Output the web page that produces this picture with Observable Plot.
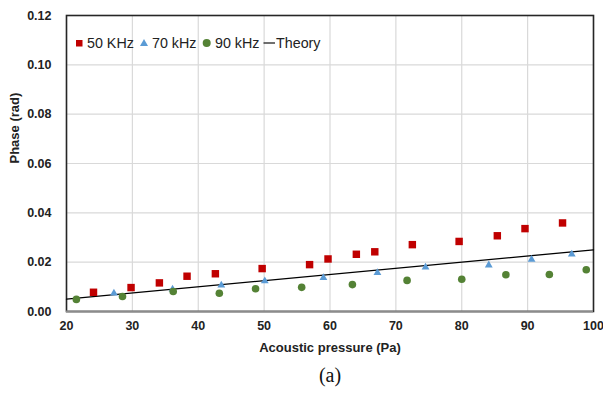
<!DOCTYPE html>
<html>
<head>
<meta charset="utf-8">
<script src="https://cdn.jsdelivr.net/npm/d3@7"></script>
<script src="https://cdn.jsdelivr.net/npm/@observablehq/plot@0.6"></script>
<style>
  html, body { margin: 0; padding: 0; background: #fff; }
  #wrap { position: relative; width: 603px; height: 398px; }
  .leg { position: absolute; font-family: "Liberation Sans", Arial, sans-serif; font-size: 14.3px; color: #222; white-space: nowrap; line-height: 1; }
  .sym { position: absolute; }
</style>
</head>
<body>
<div id="wrap"></div>
<script>
// ---- data ----
const seriesNames = ["50 KHz", "70 kHz", "90 kHz", "Theory"];
const seriesColors = ["#C00000", "#5B9BD5", "#548235", "#000000"];

const p50 = [24.1, 29.8, 34.1, 38.3, 42.6, 49.7, 56.9, 59.7, 64.0, 66.8, 72.5, 79.6, 85.4, 89.6, 95.3];
const v50 = [0.0078, 0.0097, 0.0116, 0.0143, 0.0153, 0.0174, 0.0190, 0.0213, 0.0232, 0.0242, 0.0271, 0.0284, 0.0307, 0.0336, 0.0359];

const p70 = [27.2, 36.1, 43.5, 50.1, 59.0, 67.2, 74.5, 84.1, 90.6, 96.7];
const v70 = [0.0074, 0.0090, 0.0106, 0.0124, 0.0137, 0.0157, 0.0179, 0.0188, 0.0211, 0.0232];

const p90 = [21.5, 28.5, 36.2, 43.2, 48.7, 55.7, 63.4, 71.7, 80.0, 86.7, 93.3, 98.9];
const v90 = [0.0049, 0.0061, 0.0081, 0.0074, 0.0092, 0.0098, 0.0109, 0.0126, 0.0131, 0.0149, 0.0150, 0.0169];

const pTheory = [20, 100];
const vTheory = [0.005, 0.025];

const xTicks = [20, 30, 40, 50, 60, 70, 80, 90, 100];
const yTicks = [0, 0.02, 0.04, 0.06, 0.08, 0.10, 0.12];
const xLabel = ["Acoustic pressure (Pa)"];
const yLabel = ["Phase (rad)"];
const caption = ["(a)"];

const zip = (xs, ys) => xs.map((x, i) => ({x, y: ys[i]}));
const d50 = zip(p50, v50), d70 = zip(p70, v70), d90 = zip(p90, v90), dT = zip(pTheory, vTheory);

const tickFont = {fontFamily: "'Liberation Sans', Arial, sans-serif", fontSize: "12.5px", fontWeight: "bold", fill: "#222"};

const chart = Plot.plot({
  width: 603,
  height: 398,
  marginLeft: 66,
  marginRight: 10,
  marginTop: 15,
  marginBottom: 87,
  style: {fontFamily: "'Liberation Sans', Arial, sans-serif", fontSize: "12.5px", fontWeight: "bold", color: "#222", background: "#fff"},
  x: {domain: [20, 100]},
  y: {domain: [0, 0.12]},
  marks: [
    Plot.gridX(xTicks, {stroke: "#d9d9d9", strokeOpacity: 1, strokeWidth: 1.2}),
    Plot.gridY(yTicks, {stroke: "#d9d9d9", strokeOpacity: 1, strokeWidth: 1.2}),
    Plot.axisX(xTicks, {tickSize: 0, tickPadding: 10, label: null, ...tickFont}),
    Plot.axisY(yTicks, {tickSize: 0, tickPadding: 15, tickFormat: d3.format(".2f"), label: null, ...tickFont}),
    Plot.frame({stroke: "#262626", strokeWidth: 1.6}),
    Plot.ruleY([0], {stroke: "#8c8c8c", strokeWidth: 2}),
    Plot.line(dT, {x: "x", y: "y", stroke: seriesColors[3], strokeWidth: 1.3}),
    Plot.dot(d50, {x: "x", y: "y", symbol: "square", r: 4.2, fill: seriesColors[0], stroke: "none"}),
    Plot.dot(d70, {x: "x", y: "y", symbol: "triangle", r: 2.9, fill: seriesColors[1], stroke: "none"}),
    Plot.dot(d90, {x: "x", y: "y", symbol: "circle", r: 3.8, fill: seriesColors[2], stroke: "none"}),
    Plot.text(xLabel, {text: d => d, frameAnchor: "bottom", dy: 40, fontSize: 13, fontWeight: "bold", fill: "#222"}),
    Plot.text(yLabel, {text: d => d, frameAnchor: "left", dx: -52, rotate: -90, fontSize: 13, fontWeight: "bold", fill: "#222"}),
    Plot.text(caption, {text: d => d, frameAnchor: "bottom", dy: 70, fontSize: 20, fontWeight: "normal", fontFamily: "'Liberation Serif', 'Times New Roman', serif", fill: "#111"})
  ]
});

const wrap = document.getElementById("wrap");
wrap.appendChild(chart);

// legend overlay (inside plot area, top-left)
const legendItems = [
  {sym: `<svg class="sym" width="8" height="8" style="left:75px;top:39px"><rect x="1" y="1" width="6.5" height="6.5" fill="${seriesColors[0]}"/></svg>`, text: seriesNames[0], left: 87},
  {sym: `<svg class="sym" width="10" height="9" style="left:139px;top:38px"><path d="M5,1 L9,8 L1,8 Z" fill="${seriesColors[1]}"/></svg>`, text: seriesNames[1], left: 152},
  {sym: `<svg class="sym" width="10" height="10" style="left:202px;top:38px"><circle cx="4.7" cy="5" r="4" fill="${seriesColors[2]}"/></svg>`, text: seriesNames[2], left: 215},
  {sym: `<svg class="sym" width="13" height="10" style="left:263px;top:38px"><line x1="0.5" x2="12" y1="5" y2="5" stroke="#222" stroke-width="1.3"/></svg>`, text: seriesNames[3], left: 276}
];
for (const it of legendItems) {
  wrap.insertAdjacentHTML("beforeend", it.sym);
  const s = document.createElement("div");
  s.className = "leg";
  s.style.left = it.left + "px";
  s.style.top = "36px";
  s.textContent = it.text;
  wrap.appendChild(s);
}
</script>
</body>
</html>
